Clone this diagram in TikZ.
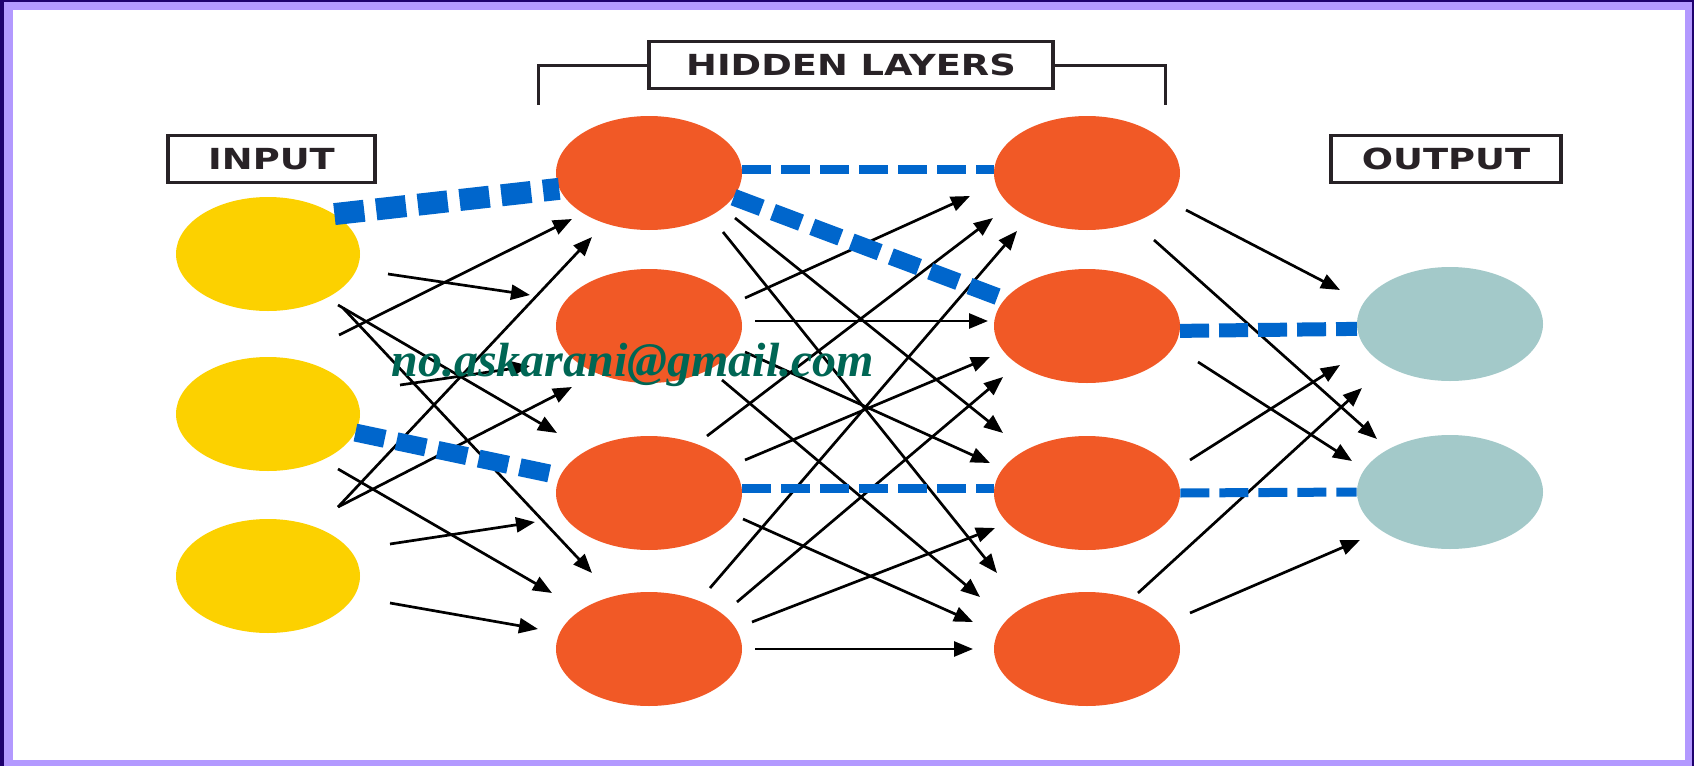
\documentclass[tikz,border=0pt]{standalone}
\usepackage{fontspec}
\usepackage{tikz}
\usetikzlibrary{shapes.geometric,arrows.meta,calc}
\newfontfamily\labelfont[FakeStretch=1.27]{DejaVu Sans}
\newfontfamily\markfont{Liberation Serif}
\definecolor{frameouter}{RGB}{30,0,110}
\definecolor{framelight}{RGB}{179,153,255}
\definecolor{inyellow}{RGB}{252,209,0}
\definecolor{hidorange}{RGB}{241,89,38}
\definecolor{outteal}{RGB}{163,201,201}
\definecolor{linkblue}{RGB}{0,102,204}
\definecolor{labelink}{RGB}{40,34,38}
\definecolor{markgreen}{RGB}{0,102,84}

\begin{document}
\begin{tikzpicture}[
      x = 0.5pt, y = -0.5pt,
      neuron/.style = {ellipse, inner sep = 0pt, minimum width = 93pt, minimum height = 57pt},
      inp/.style = {neuron, fill = inyellow, minimum width = 92pt},
      hid/.style = {neuron, fill = hidorange},
      outp/.style = {neuron, fill = outteal},
      tag/.style = {draw = labelink, line width = 1.6pt, text = labelink, inner sep = 0pt,
                    minimum height = 23.5pt, font = \labelfont\bfseries\fontsize{14.5}{16}\selectfont},
      conn/.style = {line width = 1.35pt, -{Triangle[length = 9.5pt, width = 7.5pt]}},
      link/.style = {linkblue, line width = #1, dash pattern = on 14.5pt off 5pt},
      thick link/.style = {linkblue, line width = #1, dash pattern = on 15pt off 6pt}
      ]
      \useasboundingbox (0,0) rectangle (1694,766);
      \fill[frameouter] (0,0) rectangle (1694,766);
      \fill[framelight] (4,2) rectangle (1692,766);
      \fill[white] (13,10) rectangle (1685,760);

      \node[inp] (i1) at (268,254) {};
      \node[inp] (i2) at (268,414) {};
      \node[inp] (i3) at (268,576) {};
      \node[hid] (a1) at (649,173) {};
      \node[hid] (a2) at (649,326) {};
      \node[hid] (a3) at (649,493) {};
      \node[hid] (a4) at (649,649) {};
      \node[hid] (b1) at (1087,173) {};
      \node[hid] (b2) at (1087,326) {};
      \node[hid] (b3) at (1087,493) {};
      \node[hid] (b4) at (1087,649) {};
      \node[outp] (o1) at (1450,324) {};
      \node[outp] (o2) at (1450,492) {};

      \draw[conn] ($(i1)+(120,20)$) -- ($(a2)+(-119,-31)$);
      \draw[conn] ($(i2)+(71,-79)$) -- ($(a1)+(-77,46)$);
      \draw[conn] ($(i1)+(70,51)$) -- ($(a3)+(-92,-60)$);
      \draw[conn] ($(i1)+(75,54)$) -- ($(a4)+(-57,-76)$);
      \draw[conn] ($(i2)+(132,-29)$) -- ($(a2)+(-119,40)$);
      \draw[conn] ($(i3)+(70,-69)$) -- ($(a1)+(-57,64)$);
      \draw[conn] ($(i3)+(70,-69)$) -- ($(a2)+(-77,61)$);
      \draw[conn] ($(i2)+(70,55)$) -- ($(a4)+(-97,-56)$);
      \draw[conn] ($(i3)+(122,-32)$) -- ($(a3)+(-114,29)$);
      \draw[conn] ($(i3)+(122,27)$) -- ($(a4)+(-111,-20)$);

      \draw[conn] ($(a2)+(96,-28)$) -- ($(b1)+(-117,23)$);
      \draw[conn] ($(a2)+(106,-5)$) -- ($(b2)+(-99,-5)$);
      \draw[conn] ($(a2)+(96,26)$) -- ($(b3)+(-97,-30)$);
      \draw[conn] ($(a2)+(73,54)$) -- ($(b4)+(-107,-52)$);
      \draw[conn] ($(a1)+(86,45)$) -- ($(b3)+(-84,-60)$);
      \draw[conn] ($(a1)+(74,59)$) -- ($(b4)+(-90,-76)$);
      \draw[conn] ($(a3)+(58,-57)$) -- ($(b1)+(-94,45)$);
      \draw[conn] ($(a3)+(96,-33)$) -- ($(b2)+(-97,31)$);
      \draw[conn] ($(a3)+(94,26)$) -- ($(b4)+(-114,-27)$);
      \draw[conn] ($(a4)+(61,-61)$) -- ($(b1)+(-70,58)$);
      \draw[conn] ($(a4)+(88,-47)$) -- ($(b2)+(-84,51)$);
      \draw[conn] ($(a4)+(103,-27)$) -- ($(b3)+(-92,35)$);
      \draw[conn] ($(a4)+(106,0)$) -- ($(b4)+(-114,0)$);

      \draw[conn] ($(b1)+(99,37)$) -- ($(o1)+(-110,-34)$);
      \draw[conn] ($(b1)+(67,67)$) -- ($(o2)+(-73,-53)$);
      \draw[conn] ($(b2)+(111,36)$) -- ($(o2)+(-98,-31)$);
      \draw[conn] ($(b3)+(103,-33)$) -- ($(o1)+(-110,41)$);
      \draw[conn] ($(b4)+(51,-56)$) -- ($(o1)+(-88,64)$);
      \draw[conn] ($(b4)+(103,-36)$) -- ($(o2)+(-90,48)$);

      \draw[thick link = 11pt] (i1.31) -- (a1.190);
      \draw[thick link = 9pt] (i2.-12) -- (a3.169);
      \draw[thick link = 8.5pt] (a1.-16) -- (b2.162);
      \draw[link = 4.5pt] (a1.2) -- (b1.178);
      \draw[link = 4.5pt] (a3.3) -- (b3.177);
      \draw[link = 7pt] (b2.-3) -- (o1.183);
      \draw[link = 4.5pt] (b3.east) -- (o2.west);

      \node[tag, minimum width = 103.5pt] (input) at (271.5,159) {INPUT};
      \node[tag, minimum width = 202pt] (hidden) at (851,65) {HIDDEN LAYERS};
      \node[tag, minimum width = 115pt] (output) at (1446,159) {OUTPUT};
      \coordinate (hl) at (538,105);
      \coordinate (hr) at (1165,105);
      \draw[labelink, line width = 1.5pt] (hidden.west) -| (hl);
      \draw[labelink, line width = 1.5pt] (hidden.east) -| (hr);

      \node[anchor = base west, inner sep = 0pt, text = markgreen,
            font = \markfont\bfseries\itshape\fontsize{24}{28}\selectfont] (mail) at (391,376) {no.askarani@gmail.com};
\end{tikzpicture}
\end{document}
